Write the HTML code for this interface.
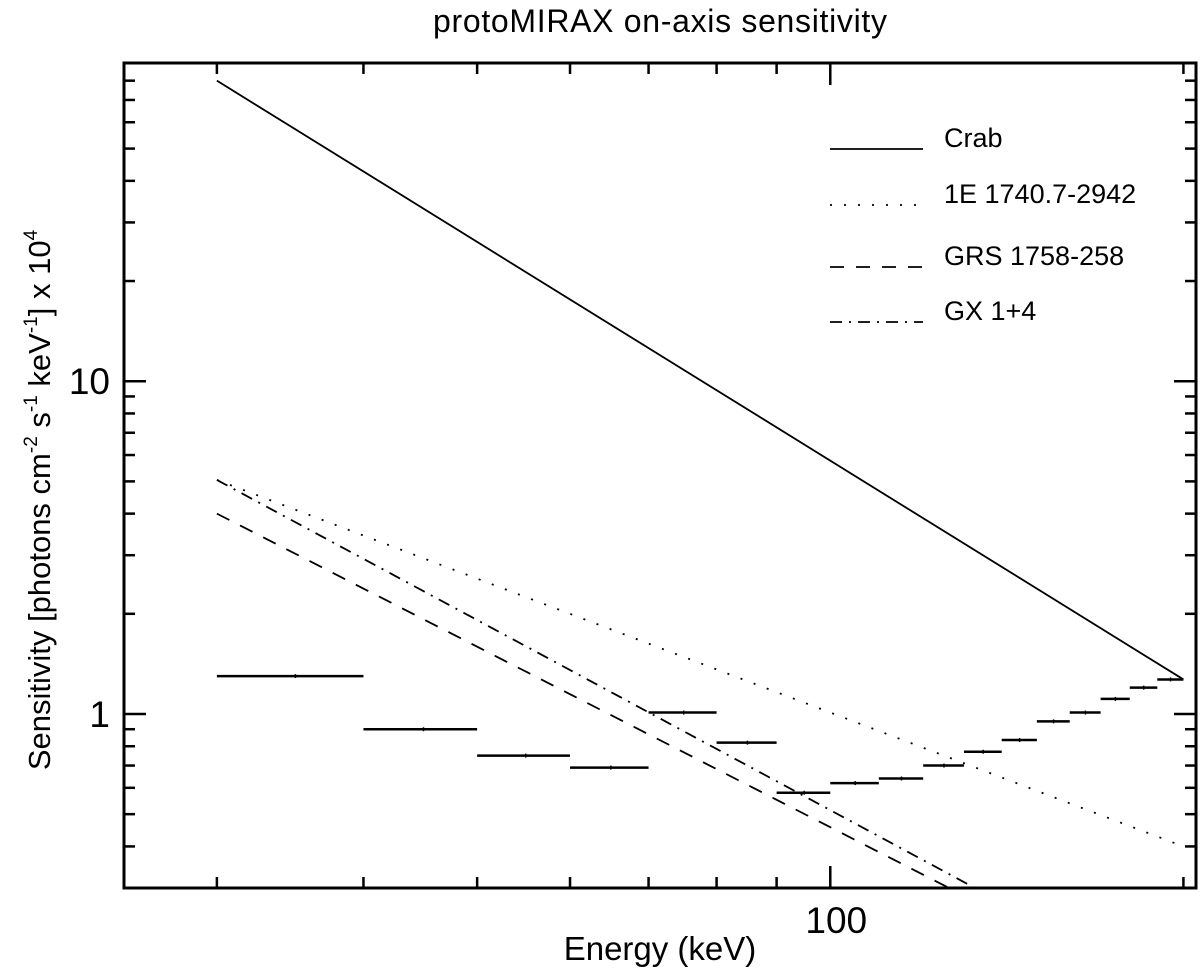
<!DOCTYPE html>
<html><head><meta charset="utf-8"><style>
body{margin:0;background:#fff}
svg{display:block;font-family:"Liberation Sans",sans-serif}
</style></head><body>
<svg id="chart" width="1200" height="975" xmlns="http://www.w3.org/2000/svg">
<text x="660" y="32" font-size="32" text-anchor="middle" textLength="454">protoMIRAX on-axis sensitivity</text>
<text x="660" y="960" font-size="33" text-anchor="middle">Energy (keV)</text>
<text transform="translate(50,500) rotate(-90)" font-size="31" text-anchor="middle">Sensitivity [photons cm<tspan dy="-13" font-size="19">-2</tspan><tspan dy="13"> s</tspan><tspan dy="-13" font-size="19">-1</tspan><tspan dy="13"> keV</tspan><tspan dy="-13" font-size="19">-1</tspan><tspan dy="13">] x 10</tspan><tspan dy="-13" font-size="19">4</tspan></text>
<g id="ticks"></g>
<g id="series"></g>
<g id="legend"></g>
<rect x="124" y="63" width="1072" height="825" fill="none" stroke="#000" stroke-width="3"/>
</svg>
<script>
const binLo=[30,40,50,60,70,80,90,100,110,120,130,140,150,160,170,180,190];
const binHi=[40,50,60,70,80,90,100,110,120,130,140,150,160,170,180,190,200];
const sensValues=[1.30,0.90,0.75,0.69,1.01,0.82,0.58,0.62,0.64,0.70,0.77,0.835,0.95,1.01,1.11,1.20,1.27];
const crabE=[30,200]; const crabF=[80,1.27];
const e1740E=[30,200]; const e1740F=[5.05,0.40];
const grsE=[30,200]; const grsF=[4.0,0.131];
const gxE=[30,200]; const gxF=[5.05,0.138];
const xMajor=[100]; const xMinor=[30,40,50,60,70,80,90,200];
const yMajor=[1,10]; const yMinor=[0.3,0.4,0.5,0.6,0.7,0.8,0.9,2,3,4,5,6,7,8,9,20,30,40,50,60,70,80];
const X0=124,X1=1196,Y0=888,Y1=63;
const xmin=Math.log10(25),xmax=Math.log10(205),ymin=Math.log10(0.3),ymax=Math.log10(90.4);
const xs=v=>X0+(Math.log10(v)-xmin)/(xmax-xmin)*(X1-X0);
const ys=v=>Y0-(Math.log10(v)-ymin)/(ymax-ymin)*(Y0-Y1);
const NS='http://www.w3.org/2000/svg';
function mk(tag,parent,attrs){const e=document.createElementNS(NS,tag);for(const k in attrs)e.setAttribute(k,attrs[k]);parent.appendChild(e);return e;}
const tg=document.getElementById('ticks');
xMajor.concat(xMinor).forEach(v=>{const L=xMajor.includes(v)?22:11;const x=xs(v);
 let t=mk('line',tg,{x1:x,x2:x,y1:Y0,y2:Y0-L,stroke:'#000','stroke-width':2.5});
 
 
 let t2=mk('line',tg,{x1:x,x2:x,y1:Y1,y2:Y1+L,stroke:'#000','stroke-width':2.5});
 
 
});
xMajor.forEach(v=>{const t=mk('text',tg,{x:xs(v)+6,y:Y0+45,'font-size':37,'text-anchor':'middle'});t.textContent=String(v);
 
 });
yMajor.concat(yMinor).forEach(v=>{const L=yMajor.includes(v)?22:11;const y=ys(v);
 let t=mk('line',tg,{x1:X0,x2:X0+L,y1:y,y2:y,stroke:'#000','stroke-width':2.5});
 
 
 let t2=mk('line',tg,{x1:X1,x2:X1-L,y1:y,y2:y,stroke:'#000','stroke-width':2.5});
 
 
});
yMajor.forEach(v=>{const t=mk('text',tg,{x:110,y:ys(v)+13,'font-size':37,'text-anchor':'end'});t.textContent=String(v);
 
 });
const sg=document.getElementById('series');
function line(E,F,dash,name){const pts=E.map((e,i)=>xs(e)+','+ys(F[i])).join(' ');
 const p=mk('polyline',sg,{points:pts,fill:'none',stroke:'#000','stroke-width':1.8,'stroke-dasharray':dash});
 
 }
const cp=document.createElementNS(NS,'clipPath');cp.id='clip';mk('rect',cp,{x:X0,y:Y1,width:X1-X0,height:Y0-Y1});document.getElementById('chart').appendChild(cp);
sg.setAttribute('clip-path','url(#clip)');
line(crabE,crabF,'none','crab-line');
line(e1740E,e1740F,'2 12','1e1740-line');
line(grsE,grsF,'14 12','grs1758-line');
line(gxE,gxF,'12 7 2 7','gx1p4-line');
binLo.forEach((lo,i)=>{const y=ys(sensValues[i]);
 const b=mk('line',sg,{x1:xs(lo),x2:xs(binHi[i]),y1:y,y2:y,stroke:'#000','stroke-width':2.5});
 
 
 const xm=xs((lo+binHi[i])/2);
 const c=mk('line',sg,{x1:xm,x2:xm,y1:y-2,y2:y+2,stroke:'#000','stroke-width':1.5});
 
 
});
const lg=document.getElementById('legend');
const legNames=['Crab','1E 1740.7-2942','GRS 1758-258','GX 1+4'];
const legDash=['none','2 12','14 12','12 7 2 7'];
const legY=[149,205,267,322];
legNames.forEach((n,i)=>{
 const l=mk('line',lg,{x1:830,x2:923,y1:legY[i],y2:legY[i],stroke:'#000','stroke-width':1.8,'stroke-dasharray':legDash[i]});
 
 
 const t=mk('text',lg,{x:944,y:legY[i]-2,'font-size':27});t.textContent=n;
 
 
});
</script>
</body></html>
